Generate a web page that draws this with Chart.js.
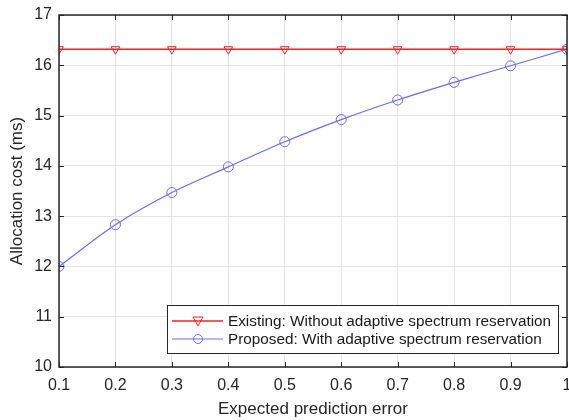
<!DOCTYPE html>
<html>
<head>
<meta charset="utf-8">
<script src="https://cdn.jsdelivr.net/npm/chart.js@4/dist/chart.umd.min.js"></script>
<style>
  html, body { margin: 0; padding: 0; background: #fff; }
  #wrap { width: 569px; height: 420px; }
</style>
</head>
<body>
<div id="wrap"><canvas id="c" width="569" height="420"></canvas></div>
<script>
// data
const errors = [0.1, 0.2, 0.3, 0.4, 0.5, 0.6, 0.7, 0.8, 0.9, 1.0];
const existing = [16.32, 16.32, 16.32, 16.32, 16.32, 16.32, 16.32, 16.32, 16.32, 16.32];
const proposed = [12.0, 12.83, 13.47, 13.98, 14.48, 14.92, 15.31, 15.66, 15.99, 16.32];
const xTicks = [0.1, 0.2, 0.3, 0.4, 0.5, 0.6, 0.7, 0.8, 0.9, 1];
const xTickLabels = ["0.1", "0.2", "0.3", "0.4", "0.5", "0.6", "0.7", "0.8", "0.9", "1"];
const yTicks = [10, 11, 12, 13, 14, 15, 16, 17];
const seriesNames = [
  "Existing: Without adaptive spectrum reservation",
  "Proposed: With adaptive spectrum reservation"
];

const RED = "#ff2020";
const BLUE = "#6a6aff";
const AXIS = "#262626";
const FONT = "'Liberation Sans', Arial, sans-serif";

// box + inward ticks on all four sides, matlab style
const boxPlugin = {
  id: "box",
  afterDraw(chart) {
    const { ctx, chartArea: a, scales } = chart;
    ctx.save();
    ctx.strokeStyle = AXIS;
    ctx.lineWidth = 1;
    const len = 5;
    ctx.beginPath();
    xTicks.forEach(v => {
      const x = Math.round(scales.x.getPixelForValue(v)) + 0.5;
      ctx.moveTo(x, a.bottom); ctx.lineTo(x, a.bottom - len);
      ctx.moveTo(x, a.top); ctx.lineTo(x, a.top + len);
    });
    yTicks.forEach(v => {
      const y = Math.round(scales.y.getPixelForValue(v)) + 0.5;
      ctx.moveTo(a.left, y); ctx.lineTo(a.left + len, y);
      ctx.moveTo(a.right, y); ctx.lineTo(a.right - len, y);
    });
    ctx.stroke();
    ctx.lineWidth = 1.5;
    ctx.strokeRect(a.left, a.top, a.right - a.left, a.bottom - a.top);
    ctx.restore();
  }
};

// legend box in the lower right of the plot
const legendPlugin = {
  id: "innerLegend",
  afterDraw(chart) {
    const { ctx, chartArea: a } = chart;
    const w = 391, h = 48;
    const x0 = a.right - 9 - w, y0 = a.bottom - 14 - h;
    ctx.save();
    ctx.fillStyle = "#fff";
    ctx.fillRect(x0, y0, w, h);
    ctx.strokeStyle = AXIS;
    ctx.lineWidth = 1;
    ctx.strokeRect(x0 + 0.5, y0 + 0.5, w, h);
    ctx.font = "15.3px " + FONT;
    ctx.textBaseline = "middle";
    chart.data.datasets.forEach((ds, i) => {
      const y = y0 + 16 + i * 18;
      ctx.strokeStyle = ds.borderColor;
      ctx.lineWidth = ds.borderWidth;
      ctx.beginPath();
      ctx.moveTo(x0 + 5, y); ctx.lineTo(x0 + 56, y);
      ctx.stroke();
      ctx.lineWidth = 1;
      ctx.beginPath();
      const cx = x0 + 31;
      if (i === 0) {
        ctx.moveTo(cx - 5, y - 4); ctx.lineTo(cx + 5, y - 4); ctx.lineTo(cx, y + 5); ctx.closePath();
      } else {
        ctx.arc(cx, y, 4.5, 0, Math.PI * 2);
      }
      ctx.stroke();
      ctx.fillStyle = "#1a1a1a";
      ctx.fillText(ds.label, x0 + 61, y + 1);
    });
    ctx.restore();
  }
};

new Chart(document.getElementById("c"), {
  type: "line",
  data: {
    datasets: [
      {
        label: seriesNames[0],
        data: errors.map((e, i) => ({ x: e, y: existing[i] })),
        borderColor: RED,
        borderWidth: 1.6,
        pointStyle: "triangle",
        rotation: 180,
        pointRadius: 5,
        pointBorderColor: RED,
        pointBackgroundColor: "rgba(0,0,0,0)",
        pointBorderWidth: 1
      },
      {
        label: seriesNames[1],
        data: errors.map((e, i) => ({ x: e, y: proposed[i] })),
        borderColor: BLUE,
        borderWidth: 1.2,
        cubicInterpolationMode: "monotone",
        pointStyle: "circle",
        pointRadius: 5,
        pointBorderColor: BLUE,
        pointBackgroundColor: "rgba(0,0,0,0)",
        pointBorderWidth: 1
      }
    ]
  },
  options: {
    responsive: false,
    animation: false,
    layout: { autoPadding: false, padding: { top: 15, right: 2, left: 0, bottom: 0 } },
    plugins: { legend: { display: false }, tooltip: { enabled: false } },
    scales: {
      x: {
        type: "linear",
        min: 0.1,
        max: 1,
        afterBuildTicks: s => { s.ticks = xTicks.map(v => ({ value: v })); },
        afterFit: s => { s.height = 53; s.paddingLeft = 0; s.paddingRight = 0; },
        grid: { color: "#e4e4e4", drawTicks: false },
        border: { display: false },
        ticks: {
          padding: 9,
          color: AXIS,
          font: { family: FONT, size: 16 },
          maxRotation: 0,
          callback: (v, i) => xTickLabels[i]
        },
        title: {
          display: true,
          text: "Expected prediction error",
          color: AXIS,
          font: { family: FONT, size: 17 },
          padding: { top: 0, bottom: 0 }
        }
      },
      y: {
        min: 10,
        max: 17,
        afterBuildTicks: s => { s.ticks = yTicks.map(v => ({ value: v })); },
        afterFit: s => { s.width = 59; s.paddingTop = 0; s.paddingBottom = 0; },
        grid: { color: "#e4e4e4", drawTicks: false },
        border: { display: false },
        ticks: {
          padding: 7,
          color: AXIS,
          font: { family: FONT, size: 16 }
        },
        title: {
          display: true,
          text: "Allocation cost (ms)",
          color: AXIS,
          font: { family: FONT, size: 17 },
          padding: { top: 7, bottom: 0 }
        }
      }
    }
  },
  plugins: [boxPlugin, legendPlugin]
});
</script>
</body>
</html>
